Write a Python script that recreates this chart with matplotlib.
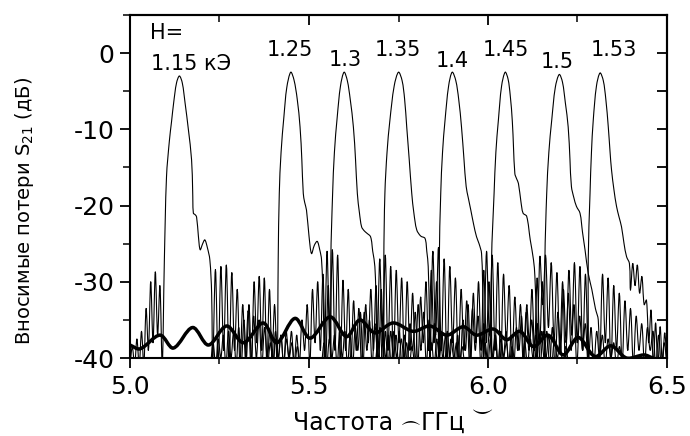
import numpy as np
import matplotlib
matplotlib.use("Agg")
import matplotlib.pyplot as plt
from matplotlib.ticker import MultipleLocator, FormatStrFormatter
from matplotlib.path import Path
from matplotlib.patches import PathPatch

plt.rcParams['font.family'] = ['DejaVu Sans']
plt.rcParams['axes.unicode_minus'] = False

# ---------------- data ----------------
field_labels = ["1.15 кЭ", "1.25", "1.3", "1.35", "1.4", "1.45", "1.5", "1.53"]
label_freq = [5.059, 5.447, 5.600, 5.747, 5.899, 6.049, 6.193, 6.352]
label_db = [-1.4, 0.4, -0.9, 0.45, -1.0, 0.45, -1.2, 0.35]

# H = 1.15
A_left_span = (5.000, 5.090)
A_left = [-41, -38.5, -41, -37.5, -41, -36.5, -41, -33.5, -39, -30, -38, -28.7, -37, -30.5, -41]
A_peak_f = [5.096, 5.102, 5.110, 5.116, 5.122, 5.130, 5.138, 5.146, 5.154, 5.163, 5.172, 5.175,
            5.177, 5.182, 5.186, 5.191, 5.196, 5.203, 5.209, 5.216, 5.223, 5.228, 5.231]
A_peak_d = [-27.1, -16.2, -11.5, -9.0, -6.5, -3.9, -3.0, -3.9, -6.6, -10.0, -14.0, -18.0,
            -21.0, -21.2, -21.5, -24.0, -25.8, -25.0, -24.5, -25.5, -27.1, -31.5, -41]
A_right_span = (5.231, 5.475)
A_right = [-41, -28.4, -41, -28, -39, -27.8, -41, -28.8, -39, -31, -41, -33, -40, -33.8,
           -41, -34.5, -40, -35, -41, -36, -40, -36.5, -41, -36.5, -40, -37, -41, -37.5,
           -40, -38, -41, -38.5, -41]

# H = 1.25
B_left_span = (5.225, 5.411)
B_left = [-41, -38, -41, -37.5, -40, -37, -41, -36.5, -40, -36.5,
          -41, -36, -41, -35, -40, -33, -41, -30, -38, -29.3, -39, -29.5, -41, -31, -40, -33, -41]
B_peak_f = [5.414, 5.417, 5.422, 5.430, 5.438, 5.449, 5.458, 5.467, 5.475, 5.480, 5.484, 5.488,
            5.493, 5.500, 5.507, 5.515, 5.523, 5.530, 5.535, 5.540, 5.543]
B_peak_d = [-27, -18.4, -13, -8.3, -4.5, -2.5, -3.5, -6, -9.7, -14, -18.4, -19.6,
            -20.6, -24, -26.3, -25.2, -24.7, -25.8, -27.1, -33, -41]
B_right_span = (5.543, 5.795)
B_right = [-41, -26, -38, -25.8, -39, -26.5, -41, -29.8, -39, -31, -41, -32.5, -39, -33.5,
           -41, -34, -39, -35, -41, -35.5, -39, -36, -41, -36.5, -41,
           -36.5, -40, -37, -41, -37.5, -40, -38, -41, -38.5, -41]

# H = 1.3
C_left_span = (5.385, 5.561)
C_left = [-41, -38, -41, -37.5, -40, -37, -41, -36.5, -40, -36.5,
          -41, -37, -41, -35, -39, -33, -41, -31, -38, -30, -39, -29, -41, -30.5, -41]
C_peak_f = [5.561, 5.566, 5.571, 5.579, 5.588, 5.598, 5.607, 5.615, 5.624, 5.630, 5.635, 5.641,
            5.647, 5.654, 5.661, 5.672, 5.678, 5.684, 5.688, 5.690]
C_peak_d = [-27.1, -18.4, -13, -8.3, -4.3, -2.5, -3.6, -6, -9.7, -14, -18.4, -21,
            -22.8, -23.3, -23.6, -24.1, -26, -28, -34, -41]
C_right_span = (5.690, 5.935)
C_right = [-41, -27, -38, -26.5, -39, -28, -41, -28.5, -38, -29.5, -41, -30, -39, -31.5,
           -41, -33, -39, -34, -41, -35, -39, -35.5, -41,
           -36.5, -40, -37, -41, -37.5, -40, -38, -41, -38.5, -41]

# H = 1.35
D_left_span = (5.535, 5.709)
D_left = [-41, -38, -41, -37.5, -40, -37, -41, -36.5, -40, -36.5,
          -41, -37, -41, -36, -39, -34, -41, -33, -38, -31, -39, -30.5, -41, -31, -41]
D_peak_f = [5.709, 5.712, 5.718, 5.726, 5.738, 5.750, 5.760, 5.767, 5.773, 5.780, 5.787, 5.793,
            5.801, 5.812, 5.824, 5.829, 5.833, 5.836, 5.838]
D_peak_d = [-27.1, -18.4, -13, -8.8, -4.3, -2.5, -3.6, -6, -9.7, -14, -18.4, -21,
            -23.2, -24, -24.3, -26, -28, -34, -41]
D_right_span = (5.838, 6.075)
D_right = [-41, -26, -37, -25.5, -39, -27, -41, -28, -38, -29.5, -41, -31, -39, -32.5,
           -41, -33.5, -39, -34.5, -41, -35.5, -41,
           -36.5, -40, -37, -41, -37.5, -40, -38, -41, -38.5, -41]

# H = 1.4
E_left_span = (5.685, 5.864)
E_left = [-41, -38, -41, -37.5, -40, -37, -41, -36.5, -40, -36.5,
          -41, -37, -41, -35.5, -39, -34, -41, -32, -38, -30, -39, -28.5, -38, -30, -41]
E_peak_f = [5.864, 5.868, 5.873, 5.880, 5.890, 5.900, 5.910, 5.918, 5.926, 5.933, 5.939, 5.945,
            5.952, 5.960, 5.968, 5.975, 5.982, 5.986, 5.988]
E_peak_d = [-27.1, -18.4, -13, -8.8, -4.3, -2.5, -3.6, -6, -9.7, -14, -17.5, -19,
            -20.6, -22.5, -24.1, -25, -26.3, -33, -41]
E_right_span = (5.988, 6.225)
E_right = [-41, -26, -37, -26.5, -39, -27.5, -41, -29, -38, -30.5, -41, -32, -39, -33,
           -41, -34, -39, -35, -41, -35.5, -41,
           -36.5, -40, -37, -41, -37.5, -40, -38, -41, -38.5, -41]

# H = 1.45
F_left_span = (5.835, 6.010)
F_left = [-41, -38, -41, -37.5, -40, -37, -41, -36.5, -40, -36.5,
          -41, -37, -41, -35, -39, -33, -41, -31.5, -38, -30, -39, -28.5, -38, -30, -41]
F_peak_f = [6.010, 6.017, 6.022, 6.029, 6.038, 6.048, 6.056, 6.062, 6.068, 6.075, 6.080, 6.085,
            6.092, 6.098, 6.108, 6.118, 6.127, 6.131, 6.135, 6.137]
F_peak_d = [-27.1, -18.4, -13, -8.8, -4.3, -2.5, -3.4, -5.5, -9, -15.8, -16.5, -17.1,
            -19.5, -21.0, -21.4, -24.5, -27.1, -29.3, -35, -41]
F_right_span = (6.137, 6.375)
F_right = [-41, -26.7, -33, -26.5, -36, -27.5, -38, -28.8, -39, -30, -41, -31.5, -39, -33,
           -41, -34.5, -39, -35.5, -41, -36, -41,
           -36.5, -40, -37, -41, -37.5, -40, -38, -41, -38.5, -41]

# H = 1.5
G_left_span = (5.985, 6.159)
G_left = [-41, -38, -41, -37.5, -40, -37, -41, -36.5, -40, -36.5,
          -41, -37, -41, -36, -39, -34.5, -41, -33, -38, -31, -39, -29.5, -38, -30, -41]
G_peak_f = [6.159, 6.164, 6.170, 6.178, 6.188, 6.199, 6.208, 6.216, 6.224, 6.229, 6.233, 6.240,
            6.247, 6.257, 6.264, 6.271, 6.280, 6.290, 6.300, 6.308, 6.312]
G_peak_d = [-27.1, -18.4, -13, -8.8, -4.5, -2.8, -3.8, -6.5, -9.7, -14, -17.5, -19,
            -20.1, -21.0, -23.5, -25.8, -28.9, -31, -33.5, -35, -41]
G_right_span = (6.312, 6.500)
G_right = [-41, -29, -38, -29.5, -41, -30.5, -39, -31.5, -41, -32.5, -39, -33.5, -41, -34.5,
           -39, -35.5, -41, -36, -39, -36.5, -41, -37, -41, -38, -41]

# H = 1.53
H_left_span = (6.095, 6.280)
H_left = [-41, -38, -41, -37.5, -40, -37, -41, -36.5, -40, -36.5,
          -41, -36, -41, -34, -39, -31, -38, -28.5, -37, -27.5, -38, -28, -39, -29, -41]
H_peak_f = [6.280, 6.285, 6.289, 6.294, 6.303, 6.313, 6.322, 6.329, 6.336, 6.341, 6.345, 6.352,
            6.359, 6.366, 6.373, 6.380, 6.387, 6.395]
H_peak_d = [-27.1, -18.4, -13, -8.8, -4.3, -2.6, -3.6, -6, -9.7, -13, -15.3, -18,
            -20.1, -21.5, -22.8, -25, -26.7, -27.6]
H_right_span = (6.398, 6.500)
H_right = [-31.1, -27.6, -30.5, -27.8, -31.5, -29.3, -33, -32.4, -38, -33.7, -41, -35.4,
           -41, -35.9, -41, -36.7, -41]

# off-resonance baseline (thick curve): its maxima and minima
base_f = [5.000, 5.028, 5.084, 5.121, 5.175, 5.219, 5.270, 5.317, 5.372, 5.410, 5.461, 5.503,
          5.559, 5.605, 5.642, 5.684, 5.735, 5.791, 5.838, 5.885, 5.931, 5.968, 6.015, 6.052,
          6.089, 6.127, 6.168, 6.210, 6.252, 6.299, 6.343, 6.387, 6.436, 6.460]
base_d = [-38.3, -38.8, -37.0, -38.7, -36.0, -38.3, -35.8, -38.0, -35.4, -38.0, -34.8, -37.4,
          -34.6, -37.2, -35.0, -36.7, -35.4, -36.5, -35.8, -37.0, -35.9, -37.0, -36.2, -37.6,
          -36.5, -38.5, -37.0, -39.6, -37.3, -39.8, -38.4, -40.0, -39.6, -40.0]

curves = [
    (A_left_span, A_left, A_peak_f, A_peak_d, A_right_span, A_right),
    (B_left_span, B_left, B_peak_f, B_peak_d, B_right_span, B_right),
    (C_left_span, C_left, C_peak_f, C_peak_d, C_right_span, C_right),
    (D_left_span, D_left, D_peak_f, D_peak_d, D_right_span, D_right),
    (E_left_span, E_left, E_peak_f, E_peak_d, E_right_span, E_right),
    (F_left_span, F_left, F_peak_f, F_peak_d, F_right_span, F_right),
    (G_left_span, G_left, G_peak_f, G_peak_d, G_right_span, G_right),
    (H_left_span, H_left, H_peak_f, H_peak_d, H_right_span, H_right),
]


def smooth_path(x, y, sx=358.0, sy=7.63):
    """Smooth curve through the given points (cubic Bezier, chordal Catmull-Rom)."""
    P = np.column_stack([np.asarray(x, float) * sx, np.asarray(y, float) * sy])
    keep = np.r_[True, np.any(np.abs(np.diff(P, axis=0)) > 1e-9, axis=1)]
    P = P[keep]
    n = len(P)
    d = np.maximum(np.linalg.norm(np.diff(P, axis=0), axis=1), 1e-6)
    T = np.zeros_like(P)
    T[0] = (P[1] - P[0]) / d[0]
    T[-1] = (P[-1] - P[-2]) / d[-1]
    for i in range(1, n - 1):
        T[i] = (P[i + 1] - P[i - 1]) / (d[i - 1] + d[i])
    verts = [P[0]]
    codes = [Path.MOVETO]
    for i in range(n - 1):
        verts += [P[i] + T[i] * d[i] / 3, P[i + 1] - T[i + 1] * d[i] / 3, P[i + 1]]
        codes += [Path.CURVE4] * 3
    V = np.array(verts)
    V[:, 0] /= sx
    V[:, 1] /= sy
    return Path(V, codes)


# ---------------- figure ----------------
W, H = 690, 436
fig = plt.figure(figsize=(W / 100, H / 100), dpi=100)
ax = fig.add_axes([130 / W, 1 - 358 / H, 537 / W, 343 / H])

for lspan, lvals, pf, pd_, rspan, rvals in curves:
    xl = np.linspace(lspan[0], lspan[1], len(lvals))
    xr = np.linspace(rspan[0], rspan[1], len(rvals))
    x = np.concatenate([xl, pf, xr])
    y = np.concatenate([lvals, pd_, rvals])
    ax.add_patch(PathPatch(smooth_path(x, y), fill=False, edgecolor='black', lw=0.8,
                           joinstyle='round'))

ax.add_patch(PathPatch(smooth_path(base_f, base_d), fill=False, edgecolor='black', lw=2.5,
                       joinstyle='round', capstyle='round'))

ax.set_xlim(5.0, 6.5)
ax.set_ylim(-40, 5)

ax.xaxis.set_major_locator(MultipleLocator(0.5))
ax.xaxis.set_minor_locator(MultipleLocator(0.25))
ax.yaxis.set_major_locator(MultipleLocator(10))
ax.yaxis.set_minor_locator(MultipleLocator(5))
ax.xaxis.set_major_formatter(FormatStrFormatter('%.1f'))

ax.tick_params(axis='both', which='major', direction='out', length=7, width=1.3,
               labelsize=18, top=False, right=False)
ax.tick_params(axis='x', which='minor', direction='out', length=4, width=1.1, top=False)
ax.tick_params(axis='y', which='minor', direction='out', length=5, width=1.1, right=False)
ax.tick_params(axis='x', which='major', pad=5)
ax.tick_params(axis='y', which='major', pad=4)

for s in ax.spines.values():
    s.set_linewidth(1.5)

secx = ax.secondary_xaxis('top')
secx.xaxis.set_major_locator(MultipleLocator(0.5))
secx.xaxis.set_minor_locator(MultipleLocator(0.25))
secx.tick_params(which='major', direction='in', length=7, width=1.3, labeltop=False)
secx.tick_params(which='minor', direction='in', length=5, width=1.1)
secx.spines['top'].set_linewidth(1.5)

secy = ax.secondary_yaxis('right')
secy.yaxis.set_major_locator(MultipleLocator(5))
secy.tick_params(which='major', direction='in', length=7, width=1.3, labelright=False)
secy.spines['right'].set_linewidth(1.5)

# labels of curves
ax.text(5.056, 2.7, "H=", fontsize=15, ha='left', va='center')
for lab, fx, dy in zip(field_labels, label_freq, label_db):
    ha = 'left' if lab.endswith('кЭ') else 'center'
    ax.text(fx, dy, lab, fontsize=15, ha=ha, va='center')

# axis titles
ax.set_ylabel("Вносимые потери S$_{21}$ (дБ)", fontsize=14)
ax.yaxis.set_label_coords(-0.175, 0.43)

fig.text(393 / W, 1 - 435 / H, "Частота", fontsize=17, ha='right', va='bottom')
fig.text(421 / W, 1 - 435 / H, "ГГц", fontsize=17, ha='left', va='bottom')
fig.text(409 / W, 1 - 431 / H, r"$\frown$", fontsize=14, ha='center', va='bottom')
fig.text(480 / W, 1 - 419 / H, r"$\smile$", fontsize=15, ha='center', va='bottom')

fig.savefig("out.png", dpi=100)
